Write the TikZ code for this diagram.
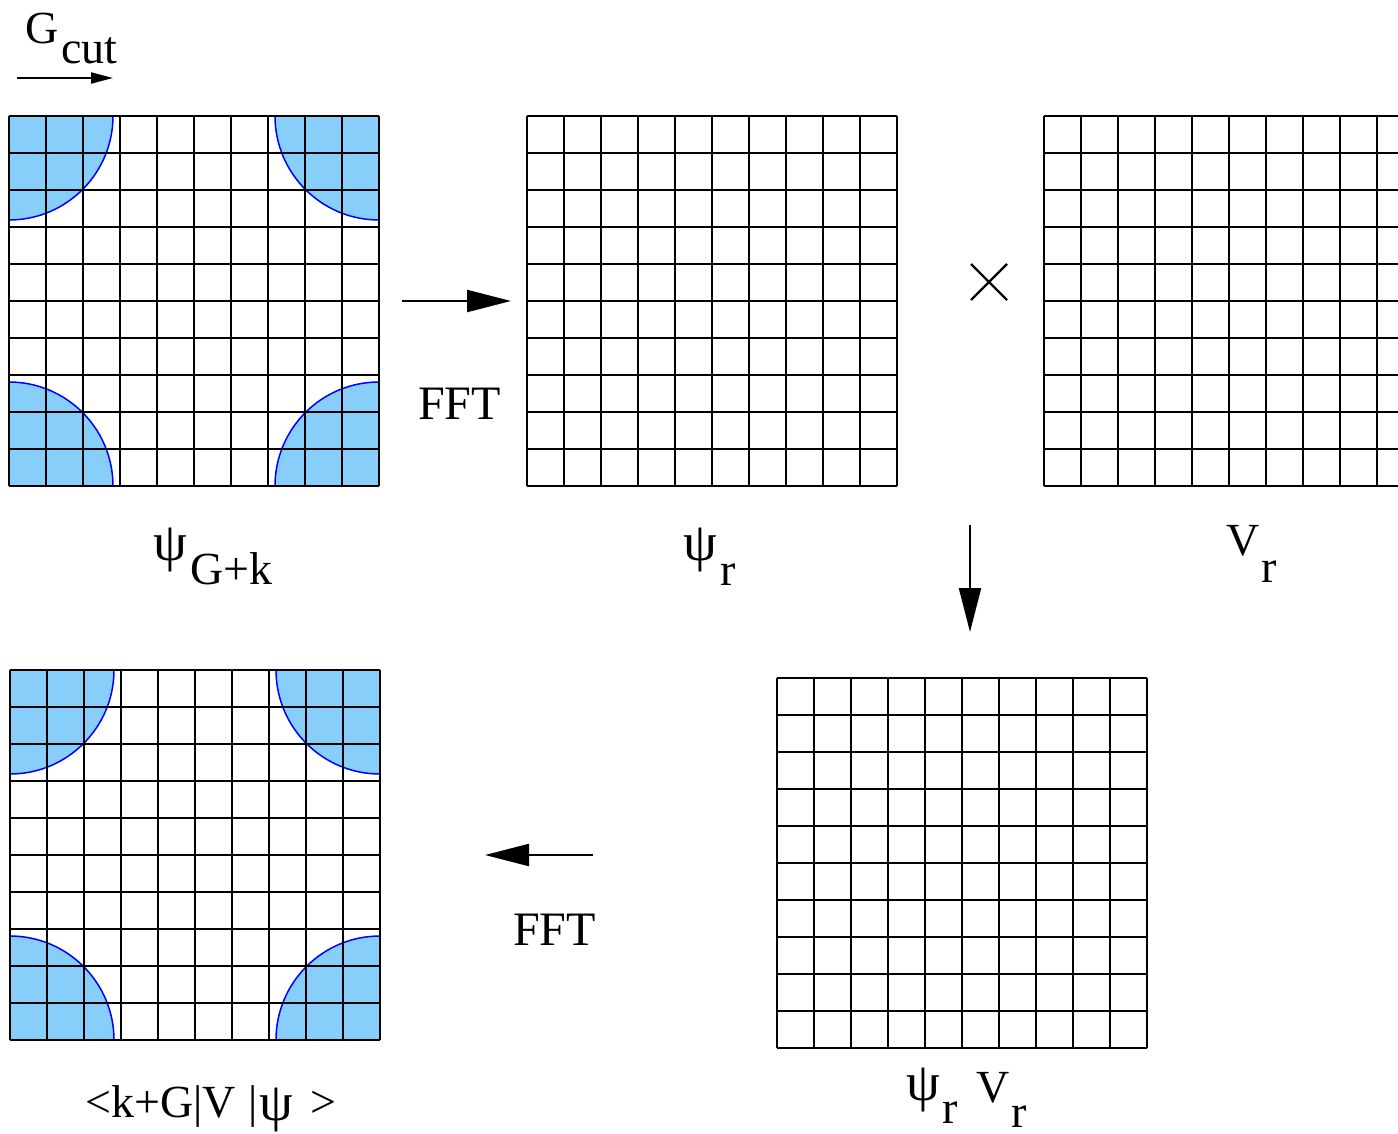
\documentclass[tikz,border=0pt]{standalone}
\usepackage{fontspec}
\setmainfont{Liberation Serif}
\usetikzlibrary{arrows.meta}
\definecolor{cutblue}{RGB}{135,206,250}
\begin{document}
\begin{tikzpicture}[x=1pt,y=-1pt,
  gl/.style={line width=1.8pt, black},
  lbl/.style={inner sep=0pt, anchor=base west, font=\fontsize{46}{52}\selectfont},
  fftlbl/.style={inner sep=0pt, anchor=base west, font=\fontsize{48}{54}\selectfont},
  psi/.style={inner sep=0pt, anchor=center, font=\fontsize{54}{60}\selectfont},
  bar/.style={inner sep=0pt, anchor=base, font=\fontsize{46}{52}\selectfont},
  bigarrow/.style={line width=2.2pt, -{Triangle[length=44pt,width=22pt]}},
  smallarrow/.style={line width=2pt, -{Triangle[length=22pt,width=11pt]}},
  cellgrid/.pic={\foreach \i in {0,...,10}{\draw[gl] (37*\i,0) -- (37*\i,370); \draw[gl] (0,37*\i) -- (370,37*\i);}},
  cutgrid/.pic={\begin{scope}\clip (0,0) rectangle (370,370);
      \foreach \cx/\cy in {0/0,370/0,0/370,370/370}{\filldraw[fill=cutblue,draw=blue,line width=1.5pt] (\cx,\cy) circle[radius=104];}
    \end{scope}
    \pic{cellgrid};}
]
\useasboundingbox[fill=white] (0,0) rectangle (1398,1133);
\begin{scope}
\clip (0,0) rectangle (1398,1133);
% grids
\pic (gA) at (9,116) {cutgrid};
\pic (gB) at (527,116) {cellgrid};
\pic (gC) at (1044,116) {cellgrid};
\pic (gD) at (777,678) {cellgrid};
\pic (gE) at (10,670) {cutgrid};
\end{scope}
% G_cut
\node[lbl] (gG) at (25,43) {G};
\node[lbl] (gcut) at (61,63) {cut};
\coordinate (gs) at (17,78);
\coordinate (ge) at (113,78);
\draw[smallarrow] (gs) -- (ge);
% FFT forward
\coordinate (f1s) at (402,301);
\coordinate (f1e) at (511,301);
\draw[bigarrow] (f1s) -- (f1e);
\node[fftlbl] (fft1) at (418,419) {FFT};
% times sign
\coordinate (x1) at (971,264);
\coordinate (x2) at (1007,300);
\coordinate (x3) at (971,300);
\coordinate (x4) at (1007,264);
\draw[line width=2.2pt] (x1) -- (x2) (x3) -- (x4);
% down arrow
\coordinate (ds) at (970,525);
\coordinate (de) at (970,632);
\draw[bigarrow] (ds) -- (de);
% back FFT
\coordinate (f2s) at (593,855);
\coordinate (f2e) at (485,855);
\draw[bigarrow] (f2s) -- (f2e);
\node[fftlbl] (fft2) at (513,945) {FFT};
% labels
\node[psi] (l1psi) at (170,550) {ψ};
\node[lbl] (l1sub) at (190,584) {G+k};
\node[psi] (l2psi) at (700,550) {ψ};
\node[lbl] (l2sub) at (720,585) {r};
\node[lbl] (l3V) at (1226,555) {V};
\node[lbl] (l3sub) at (1261,582) {r};
\node[psi] (l4psi) at (923,1090) {ψ};
\node[lbl] (l4r) at (942,1123) {r};
\node[lbl] (l4V) at (976,1102) {V};
\node[lbl] (l4r2) at (1011,1127) {r};
\node[lbl] (l5a) at (85,1117) {<k+G};
\node[bar] (l5b) at (198,1117) {|};
\node[lbl] (l5c) at (202,1117) {V};
\node[bar] (l5d) at (253,1117) {|};
\node[psi] (l5e) at (276,1110) {ψ};
\node[lbl] (l5f) at (310,1117) {>};
\end{tikzpicture}
\end{document}
